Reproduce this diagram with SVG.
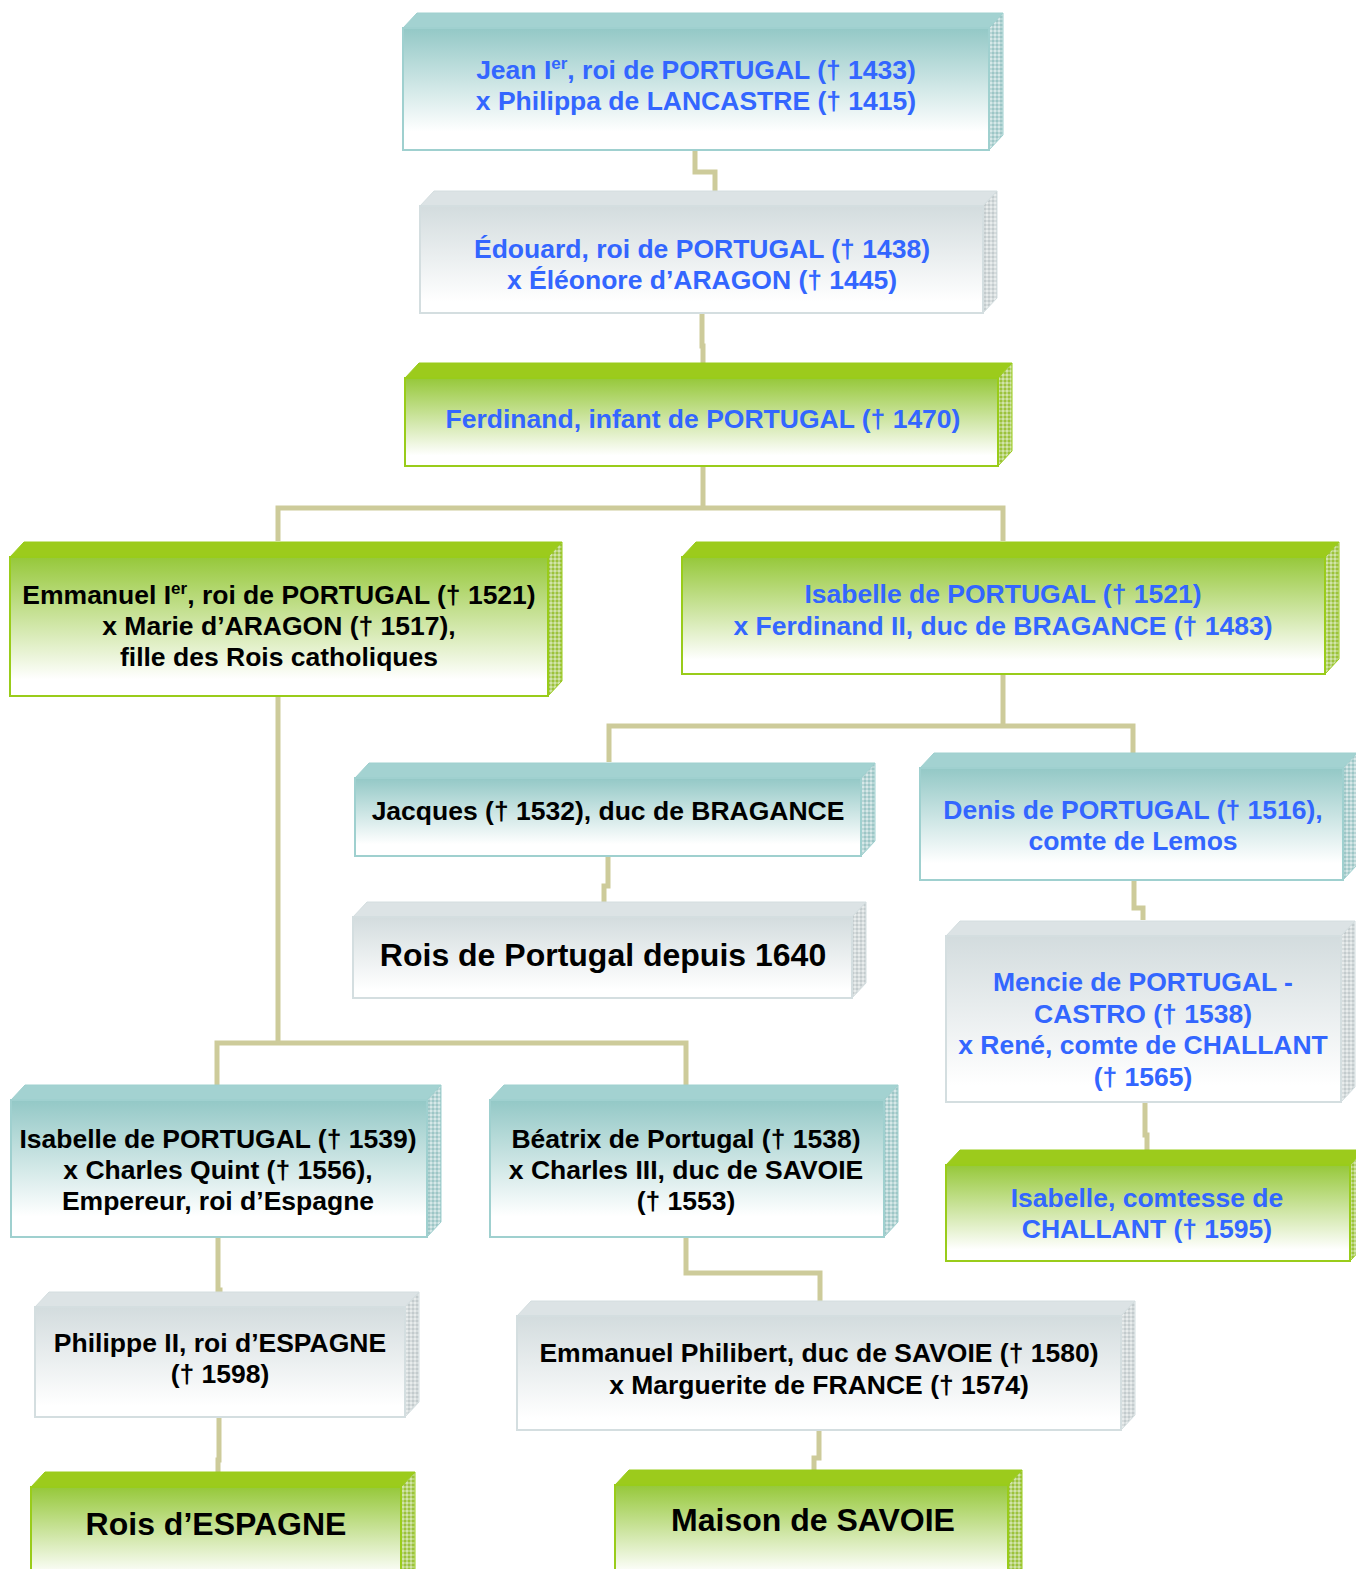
<svg xmlns="http://www.w3.org/2000/svg" width="1356" height="1569" viewBox="0 0 1356 1569">
<defs>
<linearGradient id="gTeal" x1="0" y1="0" x2="0" y2="1"><stop offset="0" stop-color="#93c8c6"/><stop offset="0.85" stop-color="#ffffff"/></linearGradient>
<linearGradient id="gGray" x1="0" y1="0" x2="0" y2="1"><stop offset="0" stop-color="#d3dcde"/><stop offset="0.9" stop-color="#ffffff"/></linearGradient>
<linearGradient id="gGreen" x1="0" y1="0" x2="0" y2="1"><stop offset="0" stop-color="#96c83a"/><stop offset="0.88" stop-color="#ffffff"/></linearGradient>
<pattern id="pTeal" width="4" height="4" patternUnits="userSpaceOnUse"><rect width="4" height="4" fill="#b9d6d6"/><rect width="2" height="2" fill="#9cc6c6"/><rect x="2" y="2" width="2" height="2" fill="#d6e8e8"/></pattern>
<pattern id="pGray" width="4" height="4" patternUnits="userSpaceOnUse"><rect width="4" height="4" fill="#d6dcdd"/><rect width="2" height="2" fill="#c3cbcd"/><rect x="2" y="2" width="2" height="2" fill="#e8ecec"/></pattern>
<pattern id="pGreen" width="4" height="4" patternUnits="userSpaceOnUse"><rect width="4" height="4" fill="#b8d47a"/><rect width="2" height="2" fill="#9cc23a"/><rect x="2" y="2" width="2" height="2" fill="#d2e4a8"/></pattern>
</defs>
<style>
.teal .f{fill:url(#gTeal);stroke:#9fd0cf;stroke-width:2}
.teal .t{fill:#a3d2d1;stroke:#9fd0cf;stroke-width:1}
.teal .r{fill:url(#pTeal);stroke:#9fd0cf;stroke-width:1}
.gray .f{fill:url(#gGray);stroke:#d4dee0;stroke-width:2}
.gray .t{fill:#dce3e5;stroke:#d4dee0;stroke-width:1}
.gray .r{fill:url(#pGray);stroke:#d4dee0;stroke-width:1}
.green .f{fill:url(#gGreen);stroke:#99cc1a;stroke-width:2}
.green .t{fill:#9ccb1c;stroke:#99cc1a;stroke-width:1}
.green .r{fill:url(#pGreen);stroke:#99cc1a;stroke-width:1}
text{font-family:"Liberation Sans",Arial,sans-serif;font-weight:bold;font-size:26.5px;text-anchor:middle}
.b{fill:#3366ff}
.k{fill:#000000}
.big{font-size:32px}
.sup{font-size:17px}
#connectors path{fill:none;stroke:#cdcb9a;stroke-width:5}
</style>
<g id="connectors">
<path d="M695,150 V172 H715 V191"/>
<path d="M702,313 V346 H703 V363"/>
<path d="M703,466 V508"/>
<path d="M278,541 V508 H1003 V541"/>
<path d="M1003,674 V726"/>
<path d="M609,762 V726 H1133 V754"/>
<path d="M608,856 V886 H604 V902"/>
<path d="M1134,880 V908 H1143 V920"/>
<path d="M1145,1102 V1135 H1147 V1152"/>
<path d="M278,696 V1043"/>
<path d="M217,1085 V1043 H686 V1085"/>
<path d="M218,1237 V1290 H220 V1293"/>
<path d="M219,1417 V1460 H218 V1472"/>
<path d="M686,1237 V1273 H820 V1302"/>
<path d="M819,1430 V1458 H814 V1470"/>
</g>
<g id="jean" class="teal">
<polygon class="t" points="403,28 417,13 1003,13 989,28"/>
<polygon class="r" points="989,28 1003,13 1003,135 989,150"/>
<rect class="f" x="403" y="28" width="586" height="122"/>
<text class="b" x="696" y="79">Jean I<tspan class="sup" dy="-10">er</tspan><tspan dy="10">, roi de PORTUGAL († 1433)</tspan></text>
<text class="b" x="696" y="110">x Philippa de LANCASTRE († 1415)</text>
</g>
<g id="edouard" class="gray">
<polygon class="t" points="420,206 434,191 997,191 983,206"/>
<polygon class="r" points="983,206 997,191 997,298 983,313"/>
<rect class="f" x="420" y="206" width="563" height="107"/>
<text class="b" x="702" y="258">Édouard, roi de PORTUGAL († 1438)</text>
<text class="b" x="702" y="289">x Éléonore d’ARAGON († 1445)</text>
</g>
<g id="ferdinand" class="green">
<polygon class="t" points="405,378 419,363 1012,363 998,378"/>
<polygon class="r" points="998,378 1012,363 1012,451 998,466"/>
<rect class="f" x="405" y="378" width="593" height="88"/>
<text class="b" x="703" y="428">Ferdinand, infant de PORTUGAL († 1470)</text>
</g>
<g id="emmanuel1" class="green">
<polygon class="t" points="10,557 24,542 562,542 548,557"/>
<polygon class="r" points="548,557 562,542 562,681 548,696"/>
<rect class="f" x="10" y="557" width="538" height="139"/>
<text class="k" x="279" y="604">Emmanuel I<tspan class="sup" dy="-10">er</tspan><tspan dy="10">, roi de PORTUGAL († 1521)</tspan></text>
<text class="k" x="279" y="635">x Marie d’ARAGON († 1517),</text>
<text class="k" x="279" y="666">fille des Rois catholiques</text>
</g>
<g id="isabelle1521" class="green">
<polygon class="t" points="682,557 696,542 1339,542 1325,557"/>
<polygon class="r" points="1325,557 1339,542 1339,659 1325,674"/>
<rect class="f" x="682" y="557" width="643" height="117"/>
<text class="b" x="1003" y="603">Isabelle de PORTUGAL († 1521)</text>
<text class="b" x="1003" y="635">x Ferdinand II, duc de BRAGANCE († 1483)</text>
</g>
<g id="jacques" class="teal">
<polygon class="t" points="355,778 369,763 875,763 861,778"/>
<polygon class="r" points="861,778 875,763 875,841 861,856"/>
<rect class="f" x="355" y="778" width="506" height="78"/>
<text class="k" x="608" y="820">Jacques († 1532), duc de BRAGANCE</text>
</g>
<g id="roisportugal" class="gray">
<polygon class="t" points="353,917 367,902 866,902 852,917"/>
<polygon class="r" points="852,917 866,902 866,983 852,998"/>
<rect class="f" x="353" y="917" width="499" height="81"/>
<text class="k big" x="603" y="966">Rois de Portugal depuis 1640</text>
</g>
<g id="denis" class="teal">
<polygon class="t" points="920,768 934,753 1357,753 1343,768"/>
<polygon class="r" points="1343,768 1357,753 1357,865 1343,880"/>
<rect class="f" x="920" y="768" width="423" height="112"/>
<text class="b" x="1133" y="819">Denis de PORTUGAL († 1516),</text>
<text class="b" x="1133" y="850">comte de Lemos</text>
</g>
<g id="mencie" class="gray">
<polygon class="t" points="946,936 960,921 1355,921 1341,936"/>
<polygon class="r" points="1341,936 1355,921 1355,1087 1341,1102"/>
<rect class="f" x="946" y="936" width="395" height="166"/>
<text class="b" x="1143" y="991">Mencie de PORTUGAL -</text>
<text class="b" x="1143" y="1023">CASTRO († 1538)</text>
<text class="b" x="1143" y="1054">x René, comte de CHALLANT</text>
<text class="b" x="1143" y="1086">(† 1565)</text>
</g>
<g id="challant" class="green">
<polygon class="t" points="946,1165 960,1150 1364,1150 1350,1165"/>
<polygon class="r" points="1350,1165 1364,1150 1364,1246 1350,1261"/>
<rect class="f" x="946" y="1165" width="404" height="96"/>
<text class="b" x="1147" y="1207">Isabelle, comtesse de</text>
<text class="b" x="1147" y="1238">CHALLANT († 1595)</text>
</g>
<g id="isabelle1539" class="teal">
<polygon class="t" points="11,1100 25,1085 441,1085 427,1100"/>
<polygon class="r" points="427,1100 441,1085 441,1222 427,1237"/>
<rect class="f" x="11" y="1100" width="416" height="137"/>
<text class="k" x="218" y="1148">Isabelle de PORTUGAL († 1539)</text>
<text class="k" x="218" y="1179">x Charles Quint († 1556),</text>
<text class="k" x="218" y="1210">Empereur, roi d’Espagne</text>
</g>
<g id="beatrix" class="teal">
<polygon class="t" points="490,1100 504,1085 898,1085 884,1100"/>
<polygon class="r" points="884,1100 898,1085 898,1222 884,1237"/>
<rect class="f" x="490" y="1100" width="394" height="137"/>
<text class="k" x="686" y="1148">Béatrix de Portugal († 1538)</text>
<text class="k" x="686" y="1179">x Charles III, duc de SAVOIE</text>
<text class="k" x="686" y="1210">(† 1553)</text>
</g>
<g id="philippe" class="gray">
<polygon class="t" points="35,1307 49,1292 419,1292 405,1307"/>
<polygon class="r" points="405,1307 419,1292 419,1402 405,1417"/>
<rect class="f" x="35" y="1307" width="370" height="110"/>
<text class="k" x="220" y="1352">Philippe II, roi d’ESPAGNE</text>
<text class="k" x="220" y="1383">(† 1598)</text>
</g>
<g id="philibert" class="gray">
<polygon class="t" points="517,1316 531,1301 1135,1301 1121,1316"/>
<polygon class="r" points="1121,1316 1135,1301 1135,1415 1121,1430"/>
<rect class="f" x="517" y="1316" width="604" height="114"/>
<text class="k" x="819" y="1362">Emmanuel Philibert, duc de SAVOIE († 1580)</text>
<text class="k" x="819" y="1394">x Marguerite de FRANCE († 1574)</text>
</g>
<g id="espagne" class="green">
<polygon class="t" points="31,1487 45,1472 415,1472 401,1487"/>
<polygon class="r" points="401,1487 415,1472 415,1575 401,1590"/>
<rect class="f" x="31" y="1487" width="370" height="100"/>
<text class="k big" x="216" y="1535">Rois d’ESPAGNE</text>
</g>
<g id="savoie" class="green">
<polygon class="t" points="615,1485 629,1470 1022,1470 1008,1485"/>
<polygon class="r" points="1008,1485 1022,1470 1022,1575 1008,1590"/>
<rect class="f" x="615" y="1485" width="393" height="100"/>
<text class="k big" x="813" y="1531">Maison de SAVOIE</text>
</g>
</svg>
